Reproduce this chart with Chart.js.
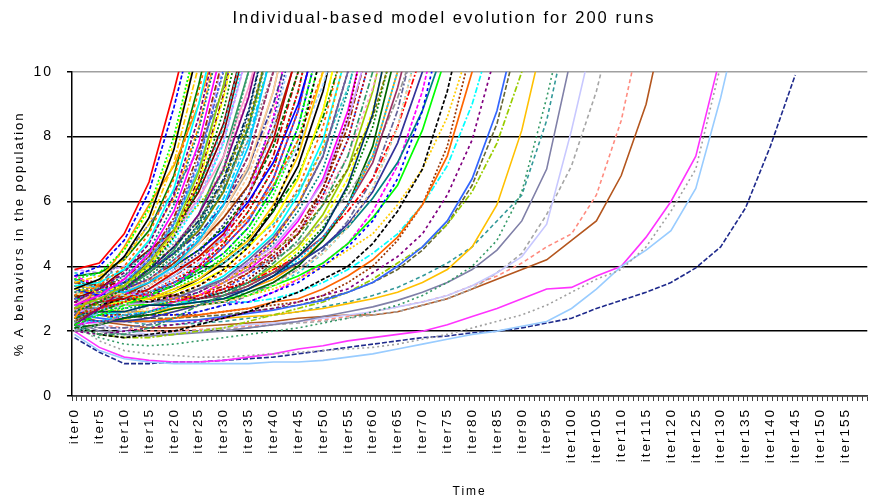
<!DOCTYPE html>
<html>
<head>
<meta charset="utf-8">
<script src="https://cdn.jsdelivr.net/npm/chart.js@4.4.1/dist/chart.umd.min.js"></script>
<style>
html, body { margin: 0; padding: 0; background: #fff; }
</style>
</head>
<body>
<canvas id="mycanvas" width="888" height="502"></canvas>
<script>
// categories: iter0 .. iter159, a value read every 5 iterations
var iterCount = 160;
var sampleStep = 5;
var iterLabels = [];
for (var i = 0; i < iterCount; i++) iterLabels.push('iter' + i);

// runs that reach 10% before ~iter33
var runsTo30 = [
  [3.9,4.1,5.0,6.6,9.4,12.5],
  [3.7,4.0,4.8,6.3,8.9,12.0],
  [3.6,3.8,4.5,5.8,8.0,11.2],
  [3.3,3.6,4.3,5.5,7.6,10.8],
  [3.5,3.7,4.2,5.3,7.2,10.2],
  [3.1,3.4,4.0,5.0,6.7,9.4,12.6],
  [3.4,3.5,3.9,4.8,6.4,9.0,12.3],
  [2.9,3.3,3.8,4.7,6.2,8.6,11.8],
  [3.2,3.3,3.7,4.5,5.9,8.2,11.4],
  [2.8,3.1,3.6,4.4,5.7,7.8,10.9],
  [3.5,3.4,3.6,4.3,5.5,7.5,10.5],
  [3.0,3.2,3.5,4.2,5.3,7.2,10.1],
  [2.7,3.0,3.4,4.1,5.1,6.9,9.6,13.0],
  [3.3,3.2,3.4,4.0,5.0,6.6,9.2,12.6],
  [2.6,2.9,3.3,3.9,4.9,6.4,8.8,12.2],
  [2.4,3.5,4.6,5.9,7.1,9.0,11.6],
  [2.5,3.4,4.3,5.3,6.3,7.6,9.5,12.0],
  [3.8,3.7,3.9,4.4,5.2,6.4,8.3,11.3]
];

// runs that reach 10% between iter33 and iter50
var runsTo50 = [
  [3.0,3.3,3.9,4.5,5.1,6.5,8.4,11.4],
  [2.6,3.0,3.6,4.2,5.0,6.1,7.9,10.7],
  [3.4,3.2,3.3,3.7,4.3,5.3,7.0,10.0,14.0],
  [2.8,3.3,3.9,4.4,5.1,6.1,7.4,9.5,12.2],
  [3.3,3.2,3.5,3.9,4.6,5.4,6.7,8.8,12.0],
  [2.4,2.9,3.5,4.0,4.6,5.4,6.6,8.5,11.2],
  [3.6,3.3,3.2,3.5,4.0,4.8,5.9,7.7,10.8],
  [2.9,3.0,3.3,3.6,4.2,4.8,5.9,7.4,10.0,13.4],
  [2.3,2.8,3.4,4.1,4.7,5.5,6.5,7.9,10.0,12.6],
  [3.2,3.0,3.2,3.6,4.0,4.7,5.7,7.1,9.4,12.7],
  [2.6,2.9,3.3,3.9,4.4,5.0,5.9,7.1,9.0,11.6],
  [3.5,3.3,3.1,3.2,3.6,4.1,4.9,6.2,8.2,11.5],
  [2.7,2.9,3.0,3.3,3.8,4.3,5.0,6.2,7.9,10.7],
  [3.1,3.0,3.2,3.6,4.0,4.5,5.2,6.2,7.7,10.0,12.9],
  [2.5,2.7,2.9,3.2,3.6,4.0,4.7,5.7,7.0,9.4,12.7],
  [3.3,3.1,3.3,3.6,4.0,4.5,5.1,6.0,7.2,9.0,11.6],
  [2.2,2.5,2.8,3.1,3.4,3.9,4.4,5.2,6.4,8.3,11.3],
  [2.9,2.8,3.0,2.9,3.1,3.4,3.9,4.6,5.8,7.6,10.8],
  [3.4,3.3,3.1,3.0,3.3,3.6,4.2,4.8,5.9,7.4,10.0,13.4],
  [2.6,2.9,3.2,3.5,3.8,4.3,4.8,5.5,6.5,7.9,10.0,12.6],
  [3.3,3.2,3.5,4.0,4.8,6.0,7.8,11.0],
  [2.2,2.7,3.3,3.9,4.6,5.6,7.0,9.2,12.4],
  [3.0,3.1,3.4,3.9,4.4,5.2,6.4,8.3,11.3],
  [3.7,3.4,3.2,3.1,3.4,4.0,4.9,6.2,8.6,12.5],
  [2.3,2.7,3.1,3.5,4.1,4.7,5.5,6.5,8.2,10.6],
  [2.8,2.9,3.0,3.2,3.5,3.9,4.6,5.4,6.7,8.8,12.0],
  [2.7,3.3,3.9,4.5,5.1,5.9,6.9,8.4,10.5]
];

// runs that reach 10% between iter50 and iter70
var runsTo70 = [
  [2.9,2.8,2.9,3.0,3.2,3.5,3.9,4.6,5.4,6.7,8.8,12.0],
  [2.4,2.6,2.9,3.2,3.4,3.8,4.2,4.9,5.7,6.8,8.6,11.1],
  [3.2,3.1,3.2,3.0,3.0,3.1,3.5,4.0,4.8,5.9,7.7,10.8],
  [2.7,2.7,2.9,2.9,3.0,3.3,3.6,4.2,4.9,5.9,7.4,10.0,13.4],
  [2.3,2.6,2.9,3.2,3.4,3.8,4.1,4.7,5.3,6.3,7.6,9.5,12.0],
  [3.5,3.4,3.3,3.2,3.1,3.0,3.2,3.6,4.2,5.0,6.4,8.6,12.3],
  [2.6,2.7,2.8,2.9,3.0,3.3,3.6,4.1,4.6,5.5,6.6,8.5,11.2],
  [2.2,1.9,1.9,2.1,2.4,2.8,3.1,3.5,4.1,4.8,5.9,7.4,10.0,13.4],
  [3.0,2.9,3.0,2.9,3.0,3.3,3.6,4.0,4.5,5.1,6.1,7.4,9.5,12.2],
  [2.5,2.6,2.6,2.8,2.8,2.9,3.0,3.3,3.7,4.3,5.1,6.5,8.7,12.2],
  [2.9,2.8,3.0,3.0,3.1,3.3,3.6,4.0,4.5,5.0,5.9,7.0,8.6,11.1],
  [2.3,2.3,2.5,2.6,2.8,2.9,3.0,3.3,3.7,4.2,4.9,5.9,7.4,10.0,13.4],
  [3.3,3.2,3.2,3.1,3.1,3.0,3.1,3.4,3.8,4.3,4.9,5.9,7.2,9.5,12.5],
  [2.0,2.2,2.5,2.8,3.0,3.3,3.5,3.9,4.2,4.7,5.4,6.2,7.4,9.2,11.5],
  [2.7,2.6,2.6,2.7,2.8,2.8,2.9,3.1,3.4,3.9,4.4,5.2,6.4,8.3,11.3],
  [2.4,2.3,2.3,2.4,2.6,2.8,3.1,3.3,3.7,4.1,4.6,5.3,6.3,7.8,10.0,12.8],
  [2.0,2.6,3.0,3.5,3.9,4.3,4.9,5.5,6.5,7.7,9.6,12.1],
  [3.6,3.5,3.3,3.2,3.1,3.0,3.3,3.8,4.3,5.0,6.2,7.9,10.7],
  [2.1,2.2,2.4,2.5,2.7,2.8,2.9,3.2,3.5,4.0,4.8,5.9,7.7,10.8],
  [3.1,3.0,3.1,3.0,2.9,3.1,3.3,3.5,3.9,4.3,4.9,5.7,6.7,8.3,10.6]
];

// runs that reach 10% between iter70 and iter90
var runsTo90 = [
  [2.6,2.5,2.4,2.5,2.5,2.6,2.8,2.9,3.2,3.5,4.0,4.6,5.4,6.7,8.8,12.0],
  [3.0,2.9,2.9,2.8,2.8,2.9,3.0,3.1,3.4,3.7,4.1,4.7,5.5,6.5,8.2,10.6],
  [2.2,1.9,1.8,1.9,2.0,2.2,2.4,2.6,2.9,3.2,3.6,4.0,4.7,5.7,7.0,9.4,12.7],
  [2.8,2.7,2.6,2.6,2.7,2.8,2.9,3.1,3.3,3.6,4.0,4.5,5.0,5.9,7.0,8.6,11.0],
  [2.4,2.3,2.3,2.3,2.4,2.5,2.6,2.7,2.9,3.0,3.3,3.7,4.2,4.9,5.9,7.4,10.0,13.4],
  [3.2,3.1,3.0,3.0,2.9,2.9,2.9,2.9,3.0,3.2,3.5,3.9,4.4,5.0,5.9,7.1,9.0,11.6],
  [2.0,1.9,2.0,2.1,2.2,2.3,2.4,2.6,2.7,2.9,3.1,3.3,3.8,4.3,5.0,6.2,7.9,10.7],
  [2.0,2.2,2.4,2.6,2.8,3.0,3.2,3.5,3.8,4.1,4.6,5.2,6.1,7.2,8.8,11.0],
  [3.4,3.3,3.2,3.1,3.0,2.9,2.9,2.9,3.2,3.6,4.1,4.7,5.7,7.1,9.4,12.7],
  [2.6,2.5,2.5,2.5,2.5,2.5,2.6,2.7,2.8,2.9,3.1,3.5,4.0,4.8,5.9,7.7,10.8],
  [2.5,2.4,2.3,2.3,2.3,2.35,2.45,2.55,2.65,2.8,2.95,3.2,3.5,4.0,4.6,5.4,6.7,8.8,12.0],
  [2.2,1.9,1.8,1.8,1.9,2.0,2.1,2.3,2.5,2.7,2.9,3.2,3.6,4.1,4.6,5.3,6.3,7.8,10.0,12.8]
];

// more runs filling the crowd between iter24 and iter68
var runsExtra = [
  [3.0,3.6,4.5,5.7,7.8,11.0],
  [3.7,3.8,4.2,5.1,6.8,9.6,13.0],
  [2.8,3.2,3.9,4.8,6.1,8.3,11.6],
  [3.4,3.5,3.7,4.3,5.4,7.3,10.0,13.4],
  [2.9,3.1,3.5,4.2,5.3,7.0,9.6,13.0],
  [3.6,3.4,3.5,4.0,5.0,6.7,9.3,12.8],
  [2.5,2.9,3.4,4.1,4.9,6.0,7.8,10.7],
  [3.1,3.1,3.3,3.8,4.5,5.6,7.4,10.0,13.4],
  [2.7,3.0,3.4,3.9,4.6,5.6,7.1,9.3,12.5],
  [3.5,3.3,3.4,3.8,4.4,5.3,6.6,8.7,12.0],
  [2.9,3.0,3.3,3.8,4.4,5.1,6.3,8.3,11.3],
  [2.5,2.8,3.2,3.6,4.2,4.9,6.1,7.9,10.8],
  [3.3,3.1,3.2,3.6,4.1,4.8,5.9,7.4,10.0,13.4],
  [2.8,2.9,3.1,3.5,4.0,4.7,5.7,7.0,9.4,12.7],
  [3.0,3.0,3.1,3.4,3.9,4.5,5.5,6.8,8.9,12.0],
  [2.4,2.6,3.0,3.4,3.9,4.4,5.3,6.5,8.5,11.6],
  [3.2,3.1,3.1,3.3,3.7,4.3,5.0,6.2,7.9,10.7],
  [2.9,2.9,3.0,3.3,3.7,4.2,4.9,5.9,7.4,10.0,13.4],
  [3.6,3.4,3.2,3.2,3.5,4.0,4.7,5.7,7.0,9.4,12.7],
  [2.6,2.7,2.9,3.2,3.5,3.9,4.6,5.4,6.7,8.8,12.0],
  [3.1,3.0,3.0,3.1,3.4,3.9,4.4,5.2,6.4,8.3,11.3],
  [2.3,2.5,2.7,3.0,3.3,3.7,4.3,5.0,6.2,7.9,10.7],
  [3.2,3.1,3.0,3.0,3.2,3.6,4.1,4.7,5.7,7.1,9.4,12.7],
  [2.7,2.7,2.8,2.9,3.2,3.5,3.9,4.6,5.4,6.7,8.8,12.0],
  [3.0,2.9,2.9,3.0,3.1,3.4,3.8,4.4,5.2,6.4,8.3,11.3],
  [2.5,2.5,2.6,2.8,3.0,3.3,3.7,4.3,5.0,6.2,7.9,10.7],
  [3.4,3.3,3.2,3.1,3.0,3.2,3.6,4.1,4.8,5.9,7.4,10.0,13.4],
  [2.8,2.7,2.7,2.8,2.9,3.2,3.6,4.0,4.7,5.7,7.0,9.4,12.7],
  [2.2,2.3,2.4,2.6,2.9,3.1,3.5,3.9,4.5,5.4,6.7,8.8,12.0],
  [3.1,3.0,2.9,2.9,3.0,3.1,3.4,3.8,4.4,5.2,6.4,8.3,11.3],
  [2.6,2.5,2.5,2.6,2.8,3.0,3.3,3.7,4.3,5.0,6.2,7.9,10.7],
  [2.9,2.8,2.8,2.8,2.9,3.0,3.2,3.5,4.0,4.6,5.6,7.0,9.4,12.7],
  [2.4,2.3,2.4,2.5,2.6,2.8,3.1,3.4,3.9,4.5,5.4,6.7,8.8,12.0],
  [3.3,3.2,3.1,3.0,2.9,3.0,3.1,3.4,3.8,4.4,5.2,6.4,8.3,11.3],
  [2.7,2.6,2.6,2.6,2.7,2.8,3.0,3.3,3.6,4.1,4.8,5.9,7.4,10.0,13.4],
  [2.2,2.1,2.1,2.2,2.4,2.6,2.8,3.1,3.5,3.9,4.5,5.4,6.7,8.8,12.0],
  [3.0,2.9,2.8,2.8,2.8,2.9,3.0,3.2,3.4,3.8,4.4,5.2,6.4,8.3,11.3],
  [2.0,2.7,3.4,4.2,5.1,6.3,8.1,11.2],
  [3.9,3.8,4.0,4.4,5.3,7.2,10.4],
  [2.1,2.6,3.1,3.7,4.3,5.1,6.3,8.2,11.2]
];

// the slow runs on the right side
var oliveRun = [2.7,2.6,2.5,2.4,2.4,2.45,2.5,2.6,2.7,2.8,3.0,3.2,3.5,3.9,4.5,5.3,6.5,8.4,11.5];
var goldRun = [2.6,2.5,2.35,2.3,2.3,2.35,2.4,2.45,2.5,2.6,2.7,2.85,3.0,3.2,3.5,3.9,4.6,5.9,8.2,11.5];
var greenRun = [2.1,1.8,1.6,1.55,1.6,1.7,1.8,1.9,2.0,2.1,2.25,2.4,2.6,2.8,3.1,3.5,4.0,4.8,6.3,9.2,12.5];
var tealRun = [2.8,2.5,2.3,2.2,2.2,2.25,2.3,2.4,2.5,2.6,2.75,2.9,3.1,3.35,3.7,4.1,4.6,5.4,6.2,8.5,12.0];
var slateRun = [2.3,2.0,1.9,1.85,1.9,1.95,2.0,2.1,2.2,2.3,2.45,2.6,2.75,2.95,3.2,3.5,3.9,4.5,5.4,7.0,10.5];
var lavenderRun = [2.4,2.2,2.0,1.9,1.95,2.0,2.1,2.2,2.25,2.3,2.4,2.5,2.6,2.75,2.9,3.1,3.4,3.8,4.3,5.3,8.2,11.5];
var grayRun = [2.3,2.1,1.9,1.85,1.9,2.0,2.05,2.1,2.2,2.25,2.3,2.4,2.5,2.6,2.8,3.0,3.3,3.8,4.4,5.6,7.1,9.4,12.5];
var salmonRun = [2.4,2.2,2.1,2.0,2.0,2.05,2.1,2.15,2.2,2.3,2.35,2.45,2.6,2.75,2.9,3.1,3.4,3.7,4.1,4.6,5.0,6.2,8.5,12.0];
var brownRun = [2.5,2.3,2.2,2.1,2.1,2.15,2.2,2.25,2.3,2.4,2.45,2.5,2.5,2.6,2.8,3.0,3.3,3.6,3.9,4.2,4.8,5.4,6.8,9.0,12.5];
var magentaRun = [2.0,1.5,1.2,1.1,1.05,1.05,1.1,1.2,1.3,1.45,1.55,1.7,1.8,1.9,2.0,2.2,2.45,2.7,3.0,3.3,3.35,3.7,4.0,4.9,6.0,7.4,10.5,13.0];
var grayDotRun = [2.2,1.7,1.4,1.3,1.25,1.2,1.2,1.25,1.3,1.35,1.4,1.45,1.5,1.6,1.75,1.9,2.1,2.3,2.5,2.8,3.2,3.6,3.9,4.6,5.7,7.0,10.2,13.0];
var lightBlueRun = [1.9,1.4,1.15,1.05,1.0,1.0,1.0,1.0,1.05,1.05,1.1,1.2,1.3,1.45,1.6,1.75,1.9,2.0,2.15,2.3,2.7,3.3,4.0,4.5,5.1,6.4,9.2,12.5];
var navyRun = [1.8,1.35,1.0,1.0,1.05,1.05,1.1,1.15,1.2,1.3,1.4,1.5,1.6,1.7,1.8,1.85,1.95,2.0,2.1,2.25,2.4,2.7,2.95,3.2,3.5,3.95,4.6,5.8,7.7,9.9];

var palette = ['#FF0000','#0000FF','#00FF00','#000000','#FFCC00','#FF6600','#00FFFF','#800080',
  '#008080','#FF00FF','#993300','#3366FF','#99CC00','#FFFF00','#008000','#FF9900','#666699',
  '#33CCCC','#800000','#CC99FF','#339966','#FF99CC','#003366','#808000','#00CCFF','#993366',
  '#969696','#FFCC99','#333399','#99CCFF','#CC0000','#006600'];
var dashes = [[], [4, 2], [2, 2], [], [6, 2, 2, 2], [3, 3]];

function spread(vals) {
  var d = [];
  for (var i = 0; i < iterCount; i++) d.push(null);
  for (var k = 0; k < vals.length; k++) {
    if (k * sampleStep < iterCount) d[k * sampleStep] = vals[k];
  }
  return d;
}

var datasets = [];
var crowd = runsTo30.concat(runsTo50, runsTo70, runsTo90, runsExtra);
for (var r = 0; r < crowd.length; r++) {
  datasets.push({
    data: spread(crowd[r]),
    borderColor: palette[r % palette.length],
    borderDash: dashes[r % dashes.length],
    borderWidth: 1.7
  });
}

var slow = [
  { vals: oliveRun, color: '#666633', dash: [5, 2] },
  { vals: goldRun, color: '#FFC000', dash: [] },
  { vals: greenRun, color: '#339966', dash: [2, 3] },
  { vals: tealRun, color: '#339999', dash: [4, 3] },
  { vals: slateRun, color: '#8080A8', dash: [] },
  { vals: lavenderRun, color: '#C8C8FF', dash: [] },
  { vals: grayRun, color: '#A6A6A6', dash: [4, 3] },
  { vals: salmonRun, color: '#FF8C80', dash: [4, 3] },
  { vals: brownRun, color: '#B4561E', dash: [] },
  { vals: grayDotRun, color: '#A0A0A0', dash: [2, 3] },
  { vals: lightBlueRun, color: '#99CCFF', dash: [] },
  { vals: magentaRun, color: '#FF33FF', dash: [] },
  { vals: navyRun, color: '#1F2A8C', dash: [5, 2] }
];
for (var s = 0; s < slow.length; s++) {
  datasets.push({
    data: spread(slow[s].vals),
    borderColor: slow[s].color,
    borderDash: slow[s].dash,
    borderWidth: 1.6
  });
}

var spacing = {
  id: 'spacing',
  beforeDraw: function(chart) { chart.ctx.letterSpacing = '2px'; }
};

var ctx = document.getElementById('mycanvas');
var lineGraph = new Chart(ctx, {
  type: 'line',
  data: { labels: iterLabels, datasets: datasets },
  options: {
    responsive: false,
    animation: false,
    spanGaps: true,
    layout: { padding: 0 },
    elements: { point: { radius: 0 }, line: { tension: 0 } },
    plugins: {
      legend: { display: false },
      tooltip: { enabled: false },
      title: {
        display: true,
        text: 'Individual-based model evolution for 200 runs',
        color: '#000',
        font: { family: 'Liberation Sans', size: 16.5, weight: 'normal' },
        padding: { top: 9, bottom: 43 }
      }
    },
    scales: {
      x: {
        offset: true,
        grid: { drawOnChartArea: false, drawTicks: true, tickLength: 5, color: '#404040', offset: true },
        border: { color: '#404040', width: 1.5 },
        ticks: {
          autoSkip: false, maxRotation: 90, minRotation: 90, padding: 7, color: '#000',
          font: { family: 'Liberation Sans', size: 13.5 },
          callback: function(v, i) { return i % 5 === 0 ? iterLabels[i] : ''; }
        },
        title: {
          display: true, text: 'Time', color: '#000',
          font: { family: 'Liberation Sans', size: 12 },
          padding: { top: 0, bottom: 3 }
        },
        afterFit: function(sc) { sc.height = 106; }
      },
      y: {
        min: 0, max: 10,
        ticks: { stepSize: 2, padding: 14, color: '#000', font: { family: 'Liberation Sans', size: 14 } },
        grid: {
          color: function(c) { return c.tick.value === 10 ? '#A0A0A0' : '#000'; },
          tickColor: '#000', tickLength: 5, lineWidth: 1.5
        },
        border: { color: '#000', width: 1.5 },
        title: {
          display: true, text: '% A behaviors in the population', color: '#000',
          font: { family: 'Liberation Sans', size: 13 },
          padding: { top: 12 }
        },
        afterFit: function(sc) { sc.width = 72; }
      }
    }
  },
  plugins: [spacing]
});
</script>
</body>
</html>
